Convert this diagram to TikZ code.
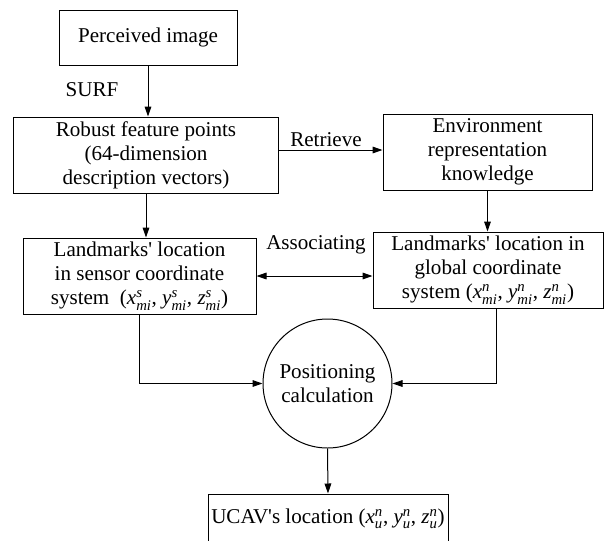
\documentclass[tikz,border=0pt]{standalone}
\usepackage{amsmath}
\usepackage{fontspec}
\setmainfont{Liberation Serif}
\usetikzlibrary{arrows.meta,positioning}

\newcommand{\pc}[3]{\textit{#1}^{\textit{#2}}_{\textit{#3}}}
\newcommand{\aps}{\textquotesingle}

\tikzset{every picture/.style={line width=0.75pt}}
\tikzset{
  blockbox/.style={draw, rectangle, inner sep=0pt, align=center, minimum height=57pt},
  calcball/.style={draw, circle, inner sep=0pt, align=center, minimum size=96.75pt},
  flowtip/.style={-{Triangle[length=7.5pt,width=5pt]}},
  twotip/.style={{Triangle[length=7.5pt,width=5pt]}-{Triangle[length=7.5pt,width=5pt]}},
  lbl/.style={inner sep=0pt}
}

\begin{document}
\begin{tikzpicture}[x=0.75pt,y=0.75pt,yscale=-1,xscale=1,
  font=\fontsize{15.8}{18}\selectfont]
\useasboundingbox (0,0) rectangle (610,540);

%Shape: Rectangle [id:img]
\node[blockbox, minimum width=133.5pt, minimum height=41.25pt] (img) at (148,37.5) {Perceived image};
%Shape: Rectangle [id:feat]
\node[blockbox, minimum width=198.75pt] (feat) at (146,155) {Robust feature points\\(64-dimension\\description vectors)};
%Shape: Rectangle [id:env]
\node[blockbox, minimum width=156.75pt] (env) at (487.5,152) {Environment\\representation\\knowledge};
%Shape: Rectangle [id:lms]
\node[blockbox, minimum width=174.75pt] (lms) at (139.5,276) {Landmarks\aps{} location\\in sensor coordinate\\system~ ($\pc{x}{s}{mi}$, $\pc{y}{s}{mi}$, $\pc{z}{s}{mi}$)};
%Shape: Rectangle [id:lmg]
\node[blockbox, minimum width=172.5pt] (lmg) at (488,270) {Landmarks\aps{} location in\\global coordinate\\system ($\pc{x}{n}{mi}$, $\pc{y}{n}{mi}$, $\pc{z}{n}{mi}$)};
%Shape: Circle [id:pos]
\node[calcball] (pos) at (327.5,383.5) {Positioning\\calculation};
%Shape: Rectangle [id:ucav]
\node[blockbox, minimum width=180pt, minimum height=37.5pt] (ucav) at (328,519) {UCAV\aps{}s location ($\pc{x}{n}{u}$, $\pc{y}{n}{u}$, $\pc{z}{n}{u}$)};

%Text labels
\node[lbl] (surf) at (92,90) {SURF};
\node[lbl] (retr) at (326,140) {Retrieve};
\node[lbl] (asso) at (316,245) {Associating};

%Straight Lines
\draw[flowtip] (img.south) -- (img.south |- feat.north);
\draw[flowtip] (feat.south) -- (feat.south |- lms.north);
\draw[flowtip] ([yshift=-3.75pt]feat.east) -- ([yshift=-3.75pt]feat.east -| env.west);
\draw[flowtip] (env.south) -- (env.south |- lmg.north);
\draw[twotip] (lms.east) -- (lms.east -| lmg.west);
%Elbow Lines
\draw[flowtip] (lms.south) |- (pos.west);
\draw[flowtip] ([xshift=6pt]lmg.south) |- (pos.east);
\draw[flowtip] (pos.south) -- (ucav.north);

\end{tikzpicture}
\end{document}
